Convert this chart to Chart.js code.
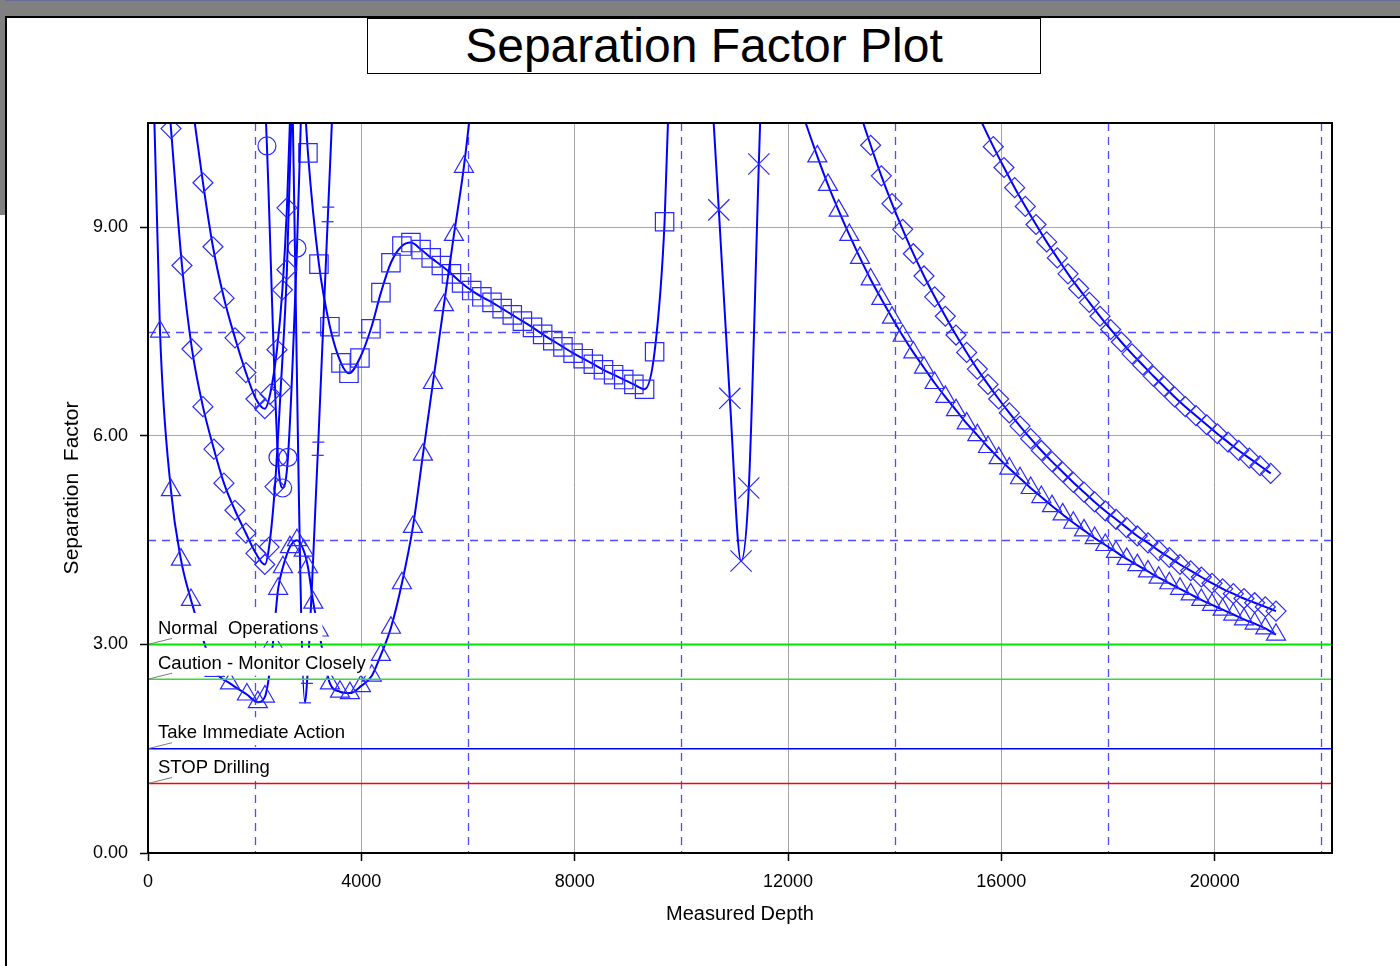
<!DOCTYPE html>
<html lang="en">
  <head>
    <meta charset="UTF-8" />
    <title>Separation Factor Plot</title>
    <script src="https://cdn.jsdelivr.net/npm/chart.js@4.4.1/dist/chart.umd.min.js"></script>
    <style>
      html, body { margin: 0; padding: 0; }
      body {
        width: 1400px; height: 966px; position: relative; overflow: hidden;
        background: #fff; font-family: "Liberation Sans", Arial, sans-serif;
      }
      .topbar { position: absolute; left: 0; top: 0; width: 1400px; height: 16px; background: #808080; border-top: 1px solid #6b6b9b; box-sizing: border-box; }
      .sidebar { position: absolute; left: 0; top: 0; width: 5px; height: 215px; background: #808080; }
      .frame { position: absolute; left: 5px; top: 16px; right: 0; bottom: 0; border-top: 2px solid #000; border-left: 2px solid #000; }
      .title {
        position: absolute; left: 367px; top: 18px; width: 674px; height: 56px;
        border: 1px solid #000; box-sizing: border-box; background: #fff;
        text-align: center; font-size: 48px; line-height: 54px; color: #000;
      }
      #sfChart { position: absolute; left: 0; top: 0; }
    </style>
  </head>
  <body>
    <div class="topbar"></div>
    <div class="sidebar"></div>
    <div class="frame"></div>
    <div class="title">Separation Factor Plot</div>
    <canvas id="sfChart" width="1400" height="966"></canvas>

    <script>
      // axis ticks
      const depthTicks = [0, 4000, 8000, 12000, 16000, 20000];
      const factorTicks = [0, 3, 6, 9];

      // reference lines
      const levelValues = [3.0, 2.5, 1.5, 1.0];
      const levelNames = ['Normal  Operations', 'Caution - Monitor Closely', 'Take Immediate Action', 'STOP Drilling'];
      const levelColors = ['#00e600', '#33dd33', '#0000ff', '#ff0000'];
      const dashedDepths = [2000, 6000, 10000, 14000, 18000, 22000];
      const dashedFactors = [4.5, 7.5];

      // triangle curve (left)
      const t1Depth = [40, 225, 430, 618, 806, 1000, 1250, 1537, 1855, 2060, 2193, 2290, 2343, 2440, 2530, 2660, 2793, 2920, 3000, 3100, 3200, 3411, 3600, 3786, 3993, 4197, 4367, 4555, 4761, 4967, 5155, 5342, 5548, 5736, 5923, 6150];
      const t1Sf = [13.0, 7.5, 5.22, 4.22, 3.64, 3.15, 2.62, 2.44, 2.28, 2.17, 2.25, 2.65, 3.02, 3.8, 4.11, 4.4, 4.5, 4.35, 4.11, 3.6, 3.2, 2.44, 2.32, 2.3, 2.4, 2.55, 2.85, 3.24, 3.88, 4.69, 5.73, 6.76, 7.88, 8.89, 9.87, 11.4];

      // diamond curves (left)
      const d1Depth = [300, 431, 637, 824, 1030, 1236, 1424, 1630, 1836, 2023, 2190, 2270, 2380, 2490, 2605, 2700];
      const d1Sf = [11.7, 10.42, 8.45, 7.25, 6.42, 5.81, 5.32, 4.93, 4.6, 4.31, 4.15, 4.4, 5.27, 6.7, 8.39, 10.9];
      const d2Depth = [700, 1031, 1218, 1425, 1631, 1836, 2024, 2190, 2290, 2418, 2520, 2605, 2690];
      const d2Sf = [11.5, 9.64, 8.72, 7.98, 7.41, 6.91, 6.53, 6.39, 6.6, 7.24, 8.1, 9.28, 11.2];

      // circle curve
      const cDepth = [2120, 2230, 2437, 2525, 2624, 2793, 2880];
      const cSf = [12.3, 10.17, 5.69, 5.25, 5.69, 8.7, 10.9];

      // bar-marker curve
      const pDepth = [2690, 2943, 2980, 3182, 3193, 3368, 3380, 3470];
      const pSf = [11.6, 2.16, 2.44, 5.72, 5.91, 9.08, 9.29, 10.9];

      // square curve
      const sDepth = [2900, 2999, 3205, 3411, 3618, 3768, 3974, 4180, 4367, 4555, 4761,
        4930, 5120, 5310, 5500, 5690, 5880, 6070, 6260, 6450, 6640, 6830, 7020, 7210, 7400, 7590, 7780, 7970, 8160, 8350, 8540, 8730, 8920, 9110,
        9311, 9499, 9686, 9790];
      const sSf = [11.3, 10.07, 8.47, 7.57, 7.05, 6.90, 7.12, 7.54, 8.06, 8.49, 8.73,
        8.78, 8.68, 8.56, 8.45, 8.33, 8.20, 8.09, 8.00, 7.92, 7.83, 7.74, 7.65, 7.56, 7.46, 7.37, 7.28, 7.19, 7.11, 7.03, 6.95, 6.88, 6.81, 6.74,
        6.67, 7.21, 9.08, 11.5];

      // cross curve
      const xDepth = [10560, 10703, 10909, 11120, 11265, 11453, 11510];
      const xSf = [11.1, 9.25, 6.54, 4.2, 5.25, 9.91, 11.3];

      // triangle curve (right)
      const t2Depth = [12150, 12350, 12550, 12750, 12950, 13150, 13350, 13550, 13750, 13950, 14150, 14350, 14550, 14750, 14950, 15150, 15350, 15550, 15750, 15950, 16150, 16350, 16550, 16750, 16950, 17150, 17350, 17550, 17750, 17950, 18150, 18350, 18550, 18750, 18950, 19150, 19350, 19550, 19750, 19950, 20150, 20350, 20550, 20750, 20950, 21150];
      const t2Sf = [10.93, 10.46, 10.02, 9.61, 9.24, 8.89, 8.56, 8.25, 7.97, 7.70, 7.44, 7.20, 6.98, 6.76, 6.56, 6.37, 6.18, 6.01, 5.84, 5.68, 5.53, 5.39, 5.25, 5.12, 4.99, 4.87, 4.75, 4.64, 4.53, 4.43, 4.33, 4.23, 4.14, 4.05, 3.96, 3.88, 3.80, 3.72, 3.64, 3.57, 3.50, 3.43, 3.36, 3.30, 3.23, 3.14];

      // diamond curves (right)
      const d3Depth = [13150, 13350, 13550, 13750, 13950, 14150, 14350, 14550, 14750, 14950, 15150, 15350, 15550, 15750, 15950, 16150, 16350, 16550, 16750, 16950, 17150, 17350, 17550, 17750, 17950, 18150, 18350, 18550, 18750, 18950, 19150, 19350, 19550, 19750, 19950, 20150, 20350, 20550, 20750, 20950, 21150];
      const d3Sf = [11.2, 10.65, 10.18, 9.74, 9.34, 8.97, 8.62, 8.30, 8.00, 7.72, 7.45, 7.20, 6.96, 6.74, 6.53, 6.33, 6.14, 5.96, 5.79, 5.63, 5.48, 5.33, 5.19, 5.05, 4.92, 4.80, 4.68, 4.56, 4.46, 4.35, 4.25, 4.15, 4.06, 3.97, 3.88, 3.80, 3.73, 3.66, 3.60, 3.54, 3.48];
      const d4Depth = [15450, 15650, 15850, 16050, 16250, 16450, 16650, 16850, 17050, 17250, 17450, 17650, 17850, 18050, 18250, 18450, 18650, 18850, 19050, 19250, 19450, 19650, 19850, 20050, 20250, 20450, 20650, 20850, 21050];
      const d4Sf = [10.82, 10.48, 10.16, 9.86, 9.57, 9.30, 9.04, 8.79, 8.56, 8.33, 8.12, 7.92, 7.72, 7.53, 7.35, 7.18, 7.02, 6.86, 6.71, 6.56, 6.42, 6.29, 6.16, 6.03, 5.91, 5.79, 5.68, 5.57, 5.46];

      const xMax = 22200;
      const yMax = 10.5;
      const blue = '#0000ff';
      const font = '"Liberation Sans", Arial, sans-serif';

      const toPoints = (depths, sf) => depths.map((d, i) => ({ x: d, y: sf[i] }));

      const curves = [
        [t1Depth, t1Sf, 'triangle', 11],
        [d1Depth, d1Sf, 'rectRot', 10],
        [d2Depth, d2Sf, 'rectRot', 10],
        [cDepth, cSf, 'circle', 9],
        [pDepth, pSf, 'line', 6],
        [sDepth, sSf, 'rect', 13],
        [xDepth, xSf, 'crossRot', 15],
        [t2Depth, t2Sf, 'triangle', 11],
        [d3Depth, d3Sf, 'rectRot', 10],
        [d4Depth, d4Sf, 'rectRot', 10]
      ];

      const datasets = curves.map(([depths, sf, style, size]) => ({
        data: toPoints(depths, sf),
        borderColor: blue,
        borderWidth: 2,
        cubicInterpolationMode: 'monotone',
        pointStyle: style,
        pointRadius: (ctx) => (ctx.raw && ctx.raw.y > yMax - 0.05 ? 0 : size),
        pointBorderColor: '#2a2aff',
        pointBorderWidth: 1.2,
        pointBackgroundColor: 'rgba(0,0,0,0)'
      }));

      levelValues.forEach((v, i) => {
        datasets.push({
          data: [{ x: 0, y: v }, { x: xMax, y: v }],
          borderColor: levelColors[i],
          borderWidth: i === 0 ? 2 : 1.4,
          pointRadius: 0,
          order: -1
        });
      });

      const overlay = {
        id: 'overlay',
        beforeDatasetsDraw(chart) {
          const { ctx, chartArea: a, scales: { x, y } } = chart;
          ctx.save();
          ctx.strokeStyle = '#4d4dff';
          ctx.lineWidth = 1.3;
          ctx.setLineDash([8, 6]);
          dashedDepths.forEach((d) => {
            const px = Math.round(x.getPixelForValue(d)) + 0.5;
            ctx.beginPath();
            ctx.moveTo(px, a.top);
            ctx.lineTo(px, a.bottom);
            ctx.stroke();
          });
          dashedFactors.forEach((f) => {
            const py = Math.round(y.getPixelForValue(f)) + 0.5;
            ctx.beginPath();
            ctx.moveTo(a.left, py);
            ctx.lineTo(a.right, py);
            ctx.stroke();
          });
          ctx.restore();
        },
        afterDatasetsDraw(chart) {
          const { ctx, chartArea: a, scales: { y } } = chart;
          ctx.save();
          ctx.font = '18.5px ' + font;
          ctx.textBaseline = 'alphabetic';
          levelValues.forEach((v, i) => {
            const py = y.getPixelForValue(v);
            const base = py - 10.5;
            const w = ctx.measureText(levelNames[i]).width;
            ctx.fillStyle = '#fff';
            ctx.fillRect(a.left + 2, base - 21, w + 12, 28);
            ctx.strokeStyle = '#7a7a7a';
            ctx.lineWidth = 1;
            ctx.beginPath();
            ctx.moveTo(a.left, py);
            ctx.lineTo(a.left + 24, py - 6);
            ctx.stroke();
            ctx.fillStyle = '#000';
            ctx.fillText(levelNames[i], a.left + 10, base);
          });

          ctx.strokeStyle = '#000';
          ctx.lineWidth = 2;
          ctx.strokeRect(a.left, a.top, a.right - a.left, a.bottom - a.top);

          ctx.fillStyle = '#000';
          ctx.font = '20px ' + font;
          ctx.textAlign = 'center';
          ctx.textBaseline = 'middle';
          ctx.fillText('Measured Depth', (a.left + a.right) / 2, 914);
          ctx.translate(72, (a.top + a.bottom) / 2);
          ctx.rotate(-Math.PI / 2);
          ctx.font = '21px ' + font;
          ctx.fillText('Separation  Factor', 0, 0);
          ctx.restore();
        }
      };

      new Chart(document.getElementById('sfChart'), {
        type: 'line',
        data: { datasets },
        plugins: [overlay],
        options: {
          responsive: false,
          animation: false,
          devicePixelRatio: 1,
          layout: { padding: { left: 0, top: 123, right: 68, bottom: 0 } },
          plugins: { legend: { display: false }, tooltip: { enabled: false } },
          scales: {
            x: {
              type: 'linear',
              min: 0,
              max: xMax,
              afterFit: (s) => { s.height = 113; },
              afterBuildTicks: (s) => { s.ticks = depthTicks.map((v) => ({ value: v })); },
              ticks: {
                color: '#000',
                padding: 10,
                maxRotation: 0,
                autoSkip: false,
                font: { family: font, size: 18 },
                callback: (v) => String(v)
              },
              grid: { color: '#a6a6a6', lineWidth: 1, tickColor: '#000', tickLength: 8, tickWidth: 1.5 },
              border: { color: '#000', width: 2 }
            },
            y: {
              min: 0,
              max: yMax,
              afterFit: (s) => { s.width = 148; },
              afterBuildTicks: (s) => { s.ticks = factorTicks.map((v) => ({ value: v })); },
              ticks: {
                color: '#000',
                padding: 12,
                autoSkip: false,
                font: { family: font, size: 18 },
                callback: (v) => v.toFixed(2)
              },
              grid: { color: '#a6a6a6', lineWidth: 1, tickColor: '#000', tickLength: 8, tickWidth: 1.5 },
              border: { color: '#000', width: 2 }
            }
          }
        }
      });
    </script>
  </body>
</html>
